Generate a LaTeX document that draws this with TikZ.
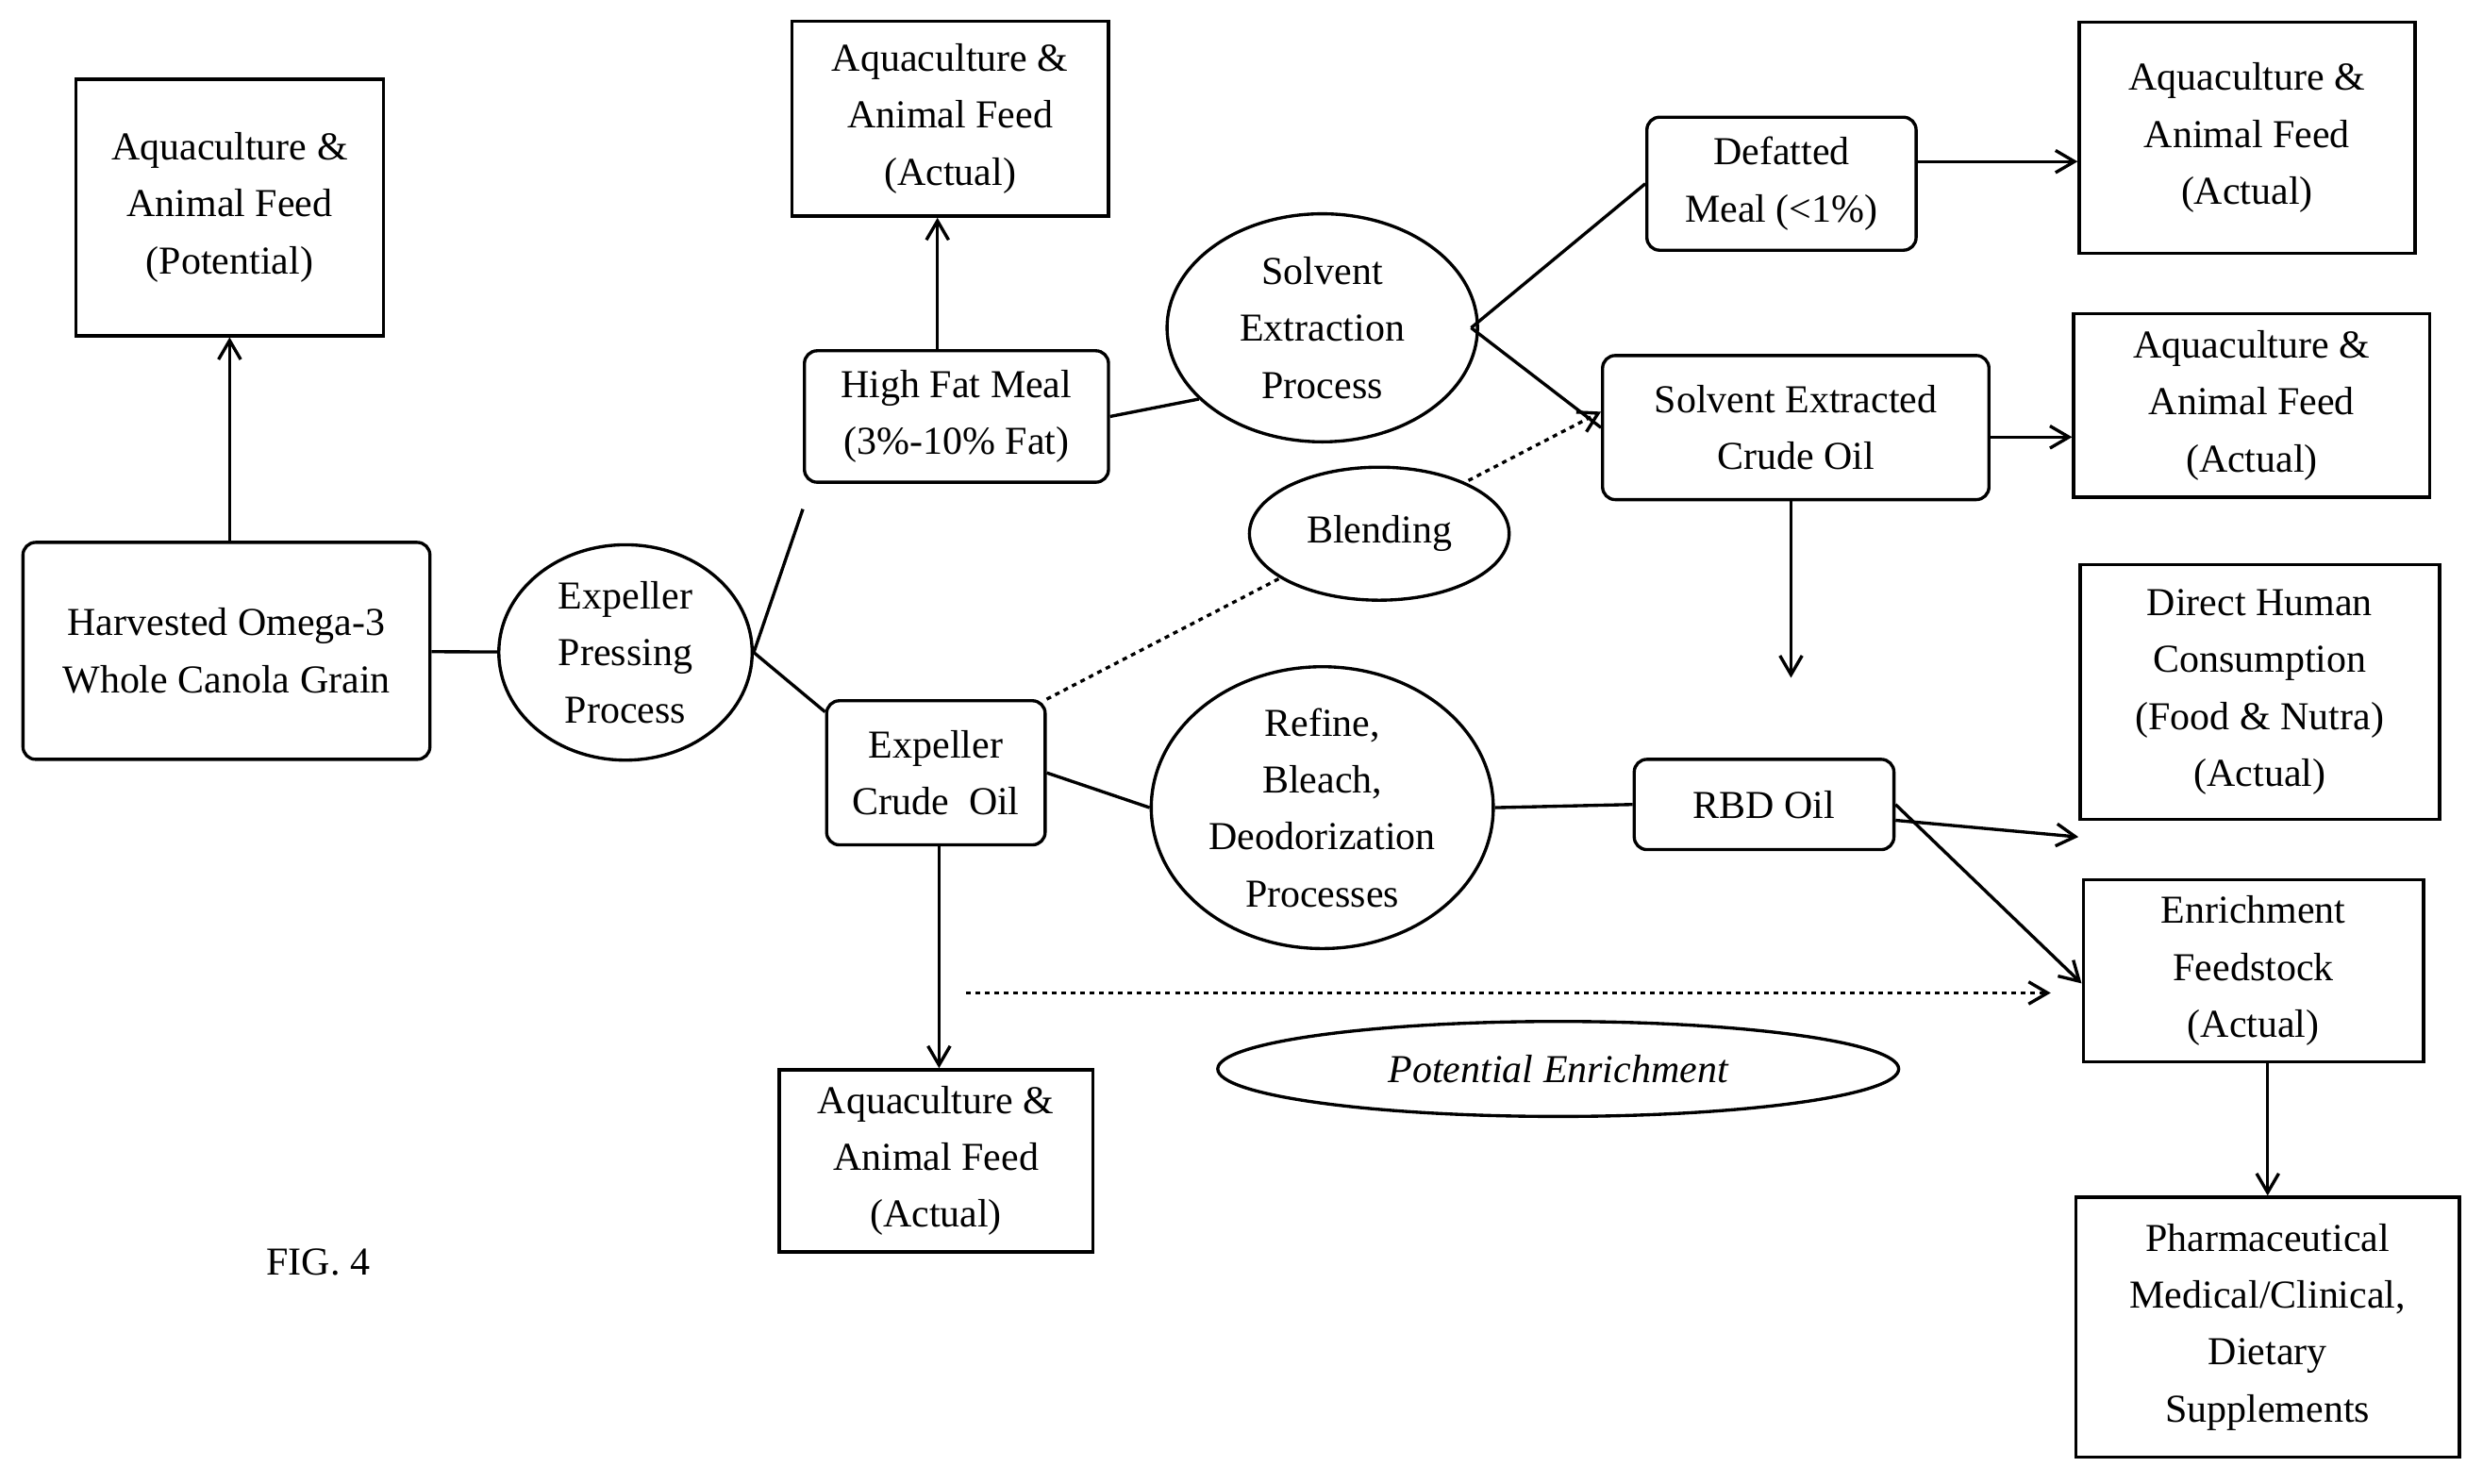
\documentclass[tikz,border=0pt]{standalone}
\usepackage{fontspec}
\setmainfont{Liberation Serif}
\usetikzlibrary{arrows.meta,shapes.geometric}
\begin{document}
\begin{tikzpicture}[x=1pt,y=-1pt,line width=2pt,
  every node/.style={font=\fontsize{25}{36}\selectfont,align=center,inner sep=0pt},
  bx/.style={draw,minimum width=#1,line width=2pt},
  rb/.style={draw,rounded corners=8pt,line width=2pt},
  el/.style={draw,ellipse,fill=white,line width=2pt},
  arr/.style={-{Straight Barb[length=12pt,width=14pt]}}]
\useasboundingbox (0,0) rectangle (1568,937);
\node[bx=194,minimum height=162] (a1) at (145,131) {Aquaculture \&\\Animal Feed\\(Potential)};
\node[rb,minimum width=257,minimum height=137] (hv) at (143,411) {Harvested Omega-3\\Whole Canola Grain};
\node[el,minimum width=160,minimum height=136] (ep) at (395,412) {Expeller\\Pressing\\Process};
\node[rb,minimum width=192,minimum height=83] (hf) at (604,263) {High Fat Meal\\(3\%-10\% Fat)};
\node[bx=200,minimum height=123] (a2) at (600,75) {Aquaculture \&\\Animal Feed\\(Actual)};
\node[el,minimum width=196,minimum height=144] (se) at (835,207) {Solvent\\Extraction\\Process};
\node[rb,minimum width=170,minimum height=84] (dm) at (1125,116) {Defatted\\Meal (<1\%)};
\node[bx=212,minimum height=146] (a3) at (1419,87) {Aquaculture \&\\Animal Feed\\(Actual)};
\node[rb,minimum width=244,minimum height=91] (sc) at (1134,270) {Solvent Extracted\\Crude Oil};
\node[bx=225,minimum height=116] (a4) at (1422,256) {Aquaculture \&\\Animal Feed\\(Actual)};
\node[rb,minimum width=138,minimum height=91] (ec) at (591,488) {Expeller\\Crude\ \ Oil};
\node[el,minimum width=216,minimum height=164] (rf) at (835,510) {Refine,\\Bleach,\\Deodorization\\Processes};
\node[rb,minimum width=164,minimum height=57] (rbd) at (1114,508) {RBD Oil};
\node[bx=227,minimum height=161] (dh) at (1427,437) {Direct Human\\Consumption\\(Food \& Nutra)\\(Actual)};
\node[bx=215,minimum height=115] (ef) at (1423,613) {Enrichment\\Feedstock\\(Actual)};
\node[bx=242,minimum height=164] (ph) at (1432,838) {Pharmaceutical\\Medical/Clinical,\\Dietary\\Supplements};
\node[bx=198,minimum height=115] (a5) at (591,733) {Aquaculture \&\\Animal Feed\\(Actual)};
\node[el,minimum width=430,minimum height=60,font=\fontsize{25}{30}\selectfont\itshape] (pe) at (984,675) {Potential Enrichment};
\node (fig) at (201,797) {FIG. 4};
\coordinate (sd) at (1131,428);
\coordinate (d1) at (610,627);
\coordinate (d2) at (1295,627);
\draw[arr] (hv.north -| a1) -- (a1.south);
\draw (hv) -- (ep);
\draw (ep.east) -- ([yshift=-16]hf.south west);
\draw (ep.east) -- ([yshift=-8]ec.north west);
\draw[arr] (hf.north -| a2.south) ++(-8,0) -- ([xshift=-8]a2.south);
\draw (hf.east) -- (se.210);
\draw (se.east) ++(-5,0) -- (dm.west);
\draw (se.east) ++(-5,0) -- (sc.west);
\draw[arr] (dm.east |- 0,102) -- (a3.west |- 0,102);
\draw[arr] (sc.east |- 0,276) -- (a4.west |- 0,276);
\draw[arr] ([xshift=-3]sc.south) -- (sd);
\draw[dashed,arr] (ec.north east) -- ([yshift=10]sc.west);
\node[el,minimum width=164,minimum height=84] (bl) at (871,337) {Blending};
\draw (ec.east) -- (rf.west);
\draw (rf.east) -- (rbd.west);
\draw[arr] ([yshift=-10]rbd.east) -- ([yshift=-10]dh.south west);
\draw[arr] (rbd.east) -- ([yshift=-8]ef.west);
\draw[arr] ([xshift=2]ec.south) -- ([xshift=2]a5.north);
\draw[dashed,arr] (d1) -- (d2);
\draw[arr] ([xshift=9]ef.south) -- (ph.north);
\end{tikzpicture}
\end{document}
